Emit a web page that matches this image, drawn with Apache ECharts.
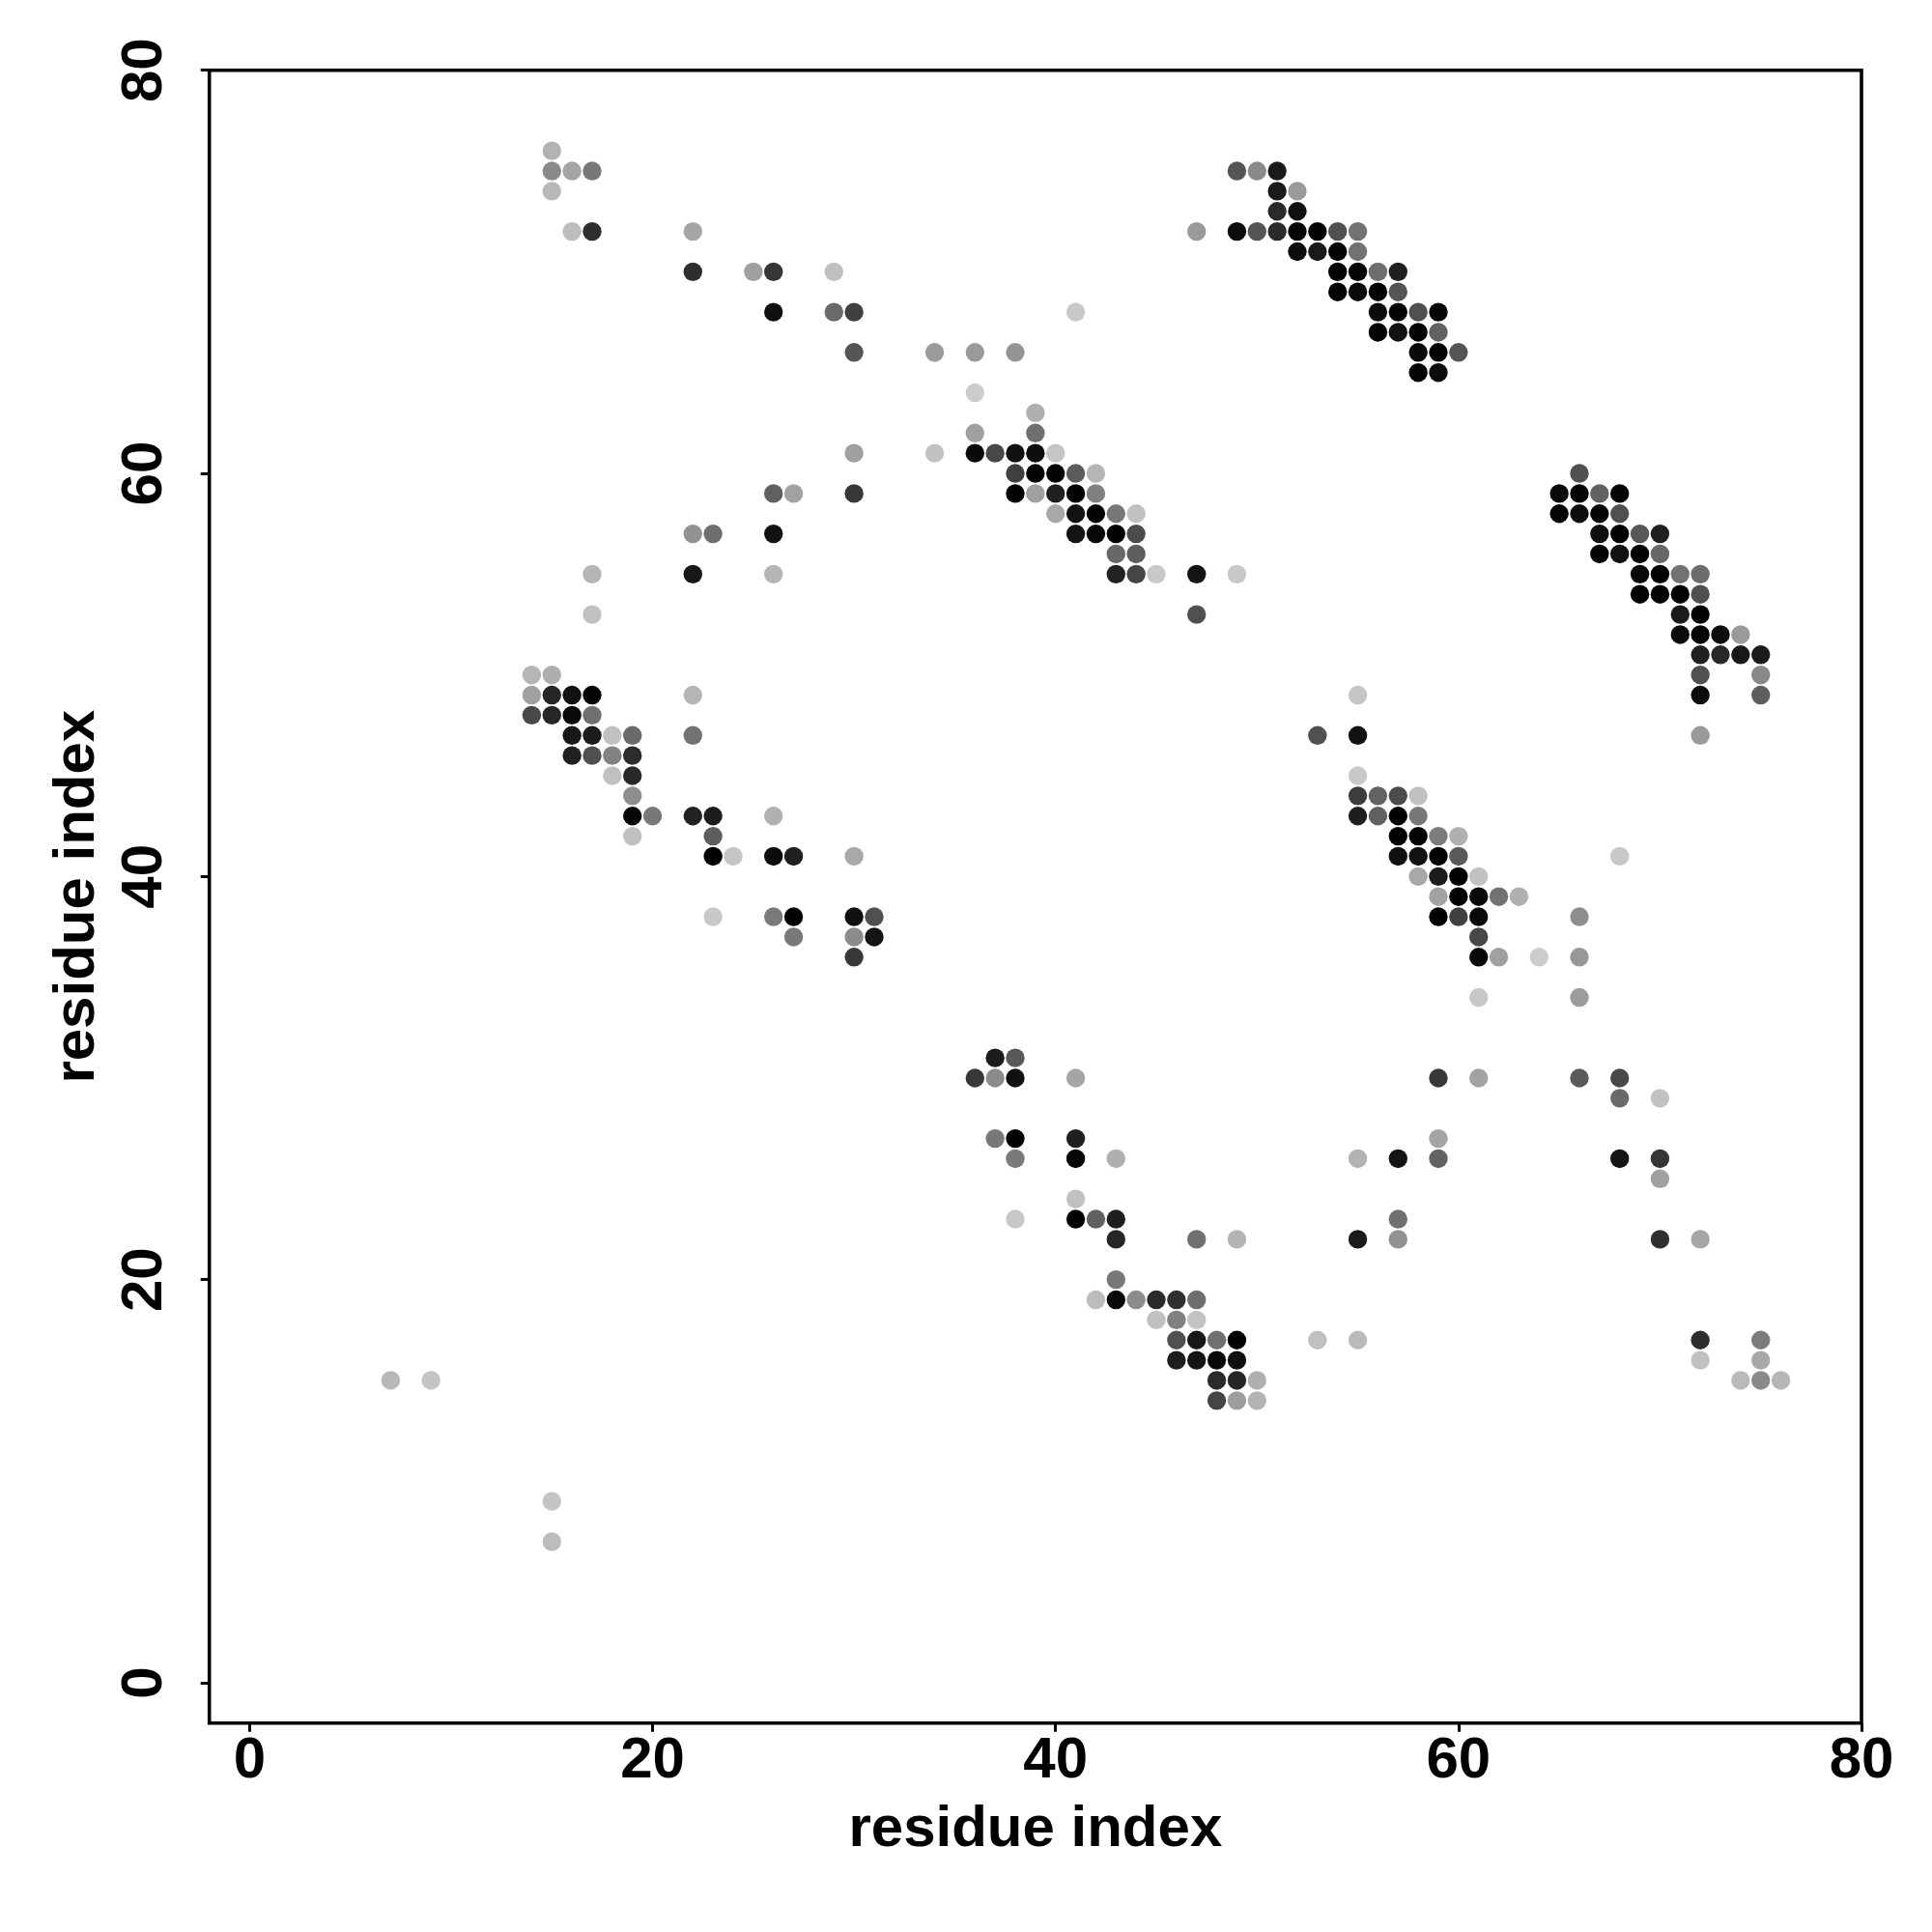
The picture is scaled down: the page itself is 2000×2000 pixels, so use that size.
<!DOCTYPE html>
<html>
<head>
<meta charset="utf-8">
<style>html,body{margin:0;padding:0;background:#fff}#chart{width:2000px;height:2000px}</style>
<script src="https://cdn.jsdelivr.net/npm/echarts@6/dist/echarts.min.js"></script>
</head>
<body>
<div id="chart"></div>
<script>
const axisTitle = 'residue index';
const tickValues = [0, 20, 40, 60, 80];
const rowY = [76,75,74,73,72,71,70,69,68,67,66,65,64,63,62,61,60,59,58,57,56,55,54,53,52,51,50,49,48,47,46,45,44,43,42,41,40,39,38,37,36,34,31,30,29,27,26,25,24,23,22,20,19,18,17,16,15,14,9,7];
const rowX = [
[15],
[15,16,17,49,50,51],
[15,51,52],
[51,52],
[16,17,22,47,49,50,51,52,53,54,55],
[52,53,54,55],
[22,25,26,29,54,55,56,57],
[54,55,56,57],
[26,29,30,41,56,57,58,59],
[56,57,58,59],
[30,34,36,38,58,59,60],
[58,59],
[36],
[39],
[36,39],
[30,34,36,37,38,39,40],
[38,39,40,41,42,66],
[26,27,30,38,39,40,41,42,65,66,67,68],
[40,41,42,43,44,65,66,67,68],
[22,23,26,41,42,43,44,67,68,69,70],
[43,44,67,68,69,70],
[17,22,26,43,44,45,47,49,69,70,71,72],
[69,70,71,72],
[17,47,71,72],
[71,72,73,74],
[72,73,74,75],
[14,15,72,75],
[14,15,16,17,22,55,72,75],
[14,15,16,17],
[16,17,18,19,22,53,55,72],
[16,17,18,19],
[18,19,55],
[19,55,56,57,58],
[19,20,22,23,26,55,56,57,58],
[19,23,57,58,59,60],
[23,24,26,27,30,57,58,59,60,68],
[58,59,60,61],
[59,60,61,62,63],
[23,26,27,30,31,59,60,61,66],
[27,30,31,61],
[30,61,62,64,66],
[61,66],
[37,38],
[36,37,38,41,59,61,66,68],
[68,70],
[37,38,41,59],
[38,41,43,55,57,59,68,70],
[70],
[41],
[38,41,42,43,57],
[43,47,49,55,57,70,72],
[43],
[42,43,44,45,46,47],
[45,46,47],
[46,47,48,49,53,55,72,75],
[46,47,48,49,72,75],
[7,9,48,49,50,74,75,76],
[48,49,50],
[15],
[15]
];
const rowShade = [
[0xb3],
[0x8a,0xa5,0x78,0x55,0x8a,0x1a],
[0xb8,0x1a,0x9a],
[0x2a,0x10],
[0xbd,0x2e,0xa5,0x9a,0x0c,0x55,0x2a,0x04,0x02,0x50,0x72],
[0x0c,0x1a,0x04,0x72],
[0x2e,0xa0,0x35,0xc0,0x02,0x04,0x6e,0x20],
[0x04,0x0a,0x02,0x55],
[0x10,0x6a,0x40,0xc8,0x0c,0x04,0x50,0x04],
[0x04,0x12,0x04,0x62],
[0x55,0x9a,0x9a,0x95,0x0a,0x02,0x55],
[0x04,0x0c],
[0xcc],
[0xb0],
[0xa0,0x70],
[0xa0,0xc2,0x0a,0x48,0x10,0x0e,0xc5],
[0x40,0x04,0x02,0x5c,0xb5,0x50],
[0x60,0xa2,0x38,0x02,0xa0,0x20,0x02,0x80,0x0a,0x04,0x62,0x04],
[0xa8,0x12,0x02,0x78,0xc0,0x04,0x0e,0x04,0x50],
[0x92,0x6e,0x12,0x14,0x08,0x02,0x4c,0x10,0x02,0x58,0x20],
[0x68,0x5e,0x04,0x12,0x02,0x68],
[0xb5,0x18,0xb5,0x22,0x45,0xc8,0x14,0xc8,0x0a,0x02,0x72,0x6c],
[0x04,0x04,0x04,0x50],
[0xc0,0x50,0x1a,0x02],
[0x0c,0x04,0x0e,0x9a],
[0x20,0x28,0x18,0x1a],
[0xb5,0xae,0x50,0x88],
[0xa0,0x26,0x12,0x04,0xb5,0xc5,0x0c,0x5e],
[0x48,0x26,0x0a,0x70],
[0x18,0x1c,0xc0,0x6a,0x72,0x50,0x12,0x9a],
[0x20,0x50,0x82,0x2c],
[0xc0,0x28,0xc8],
[0x8e,0x3c,0x62,0x4c,0xc0],
[0x06,0x78,0x22,0x1c,0xb0,0x1e,0x60,0x00,0x78],
[0xc0,0x5e,0x02,0x04,0x7c,0xb0],
[0x02,0xc5,0x0c,0x20,0xa8,0x10,0x12,0x02,0x5a,0xc8],
[0xa8,0x1c,0x00,0xc2],
[0xa2,0x02,0x0a,0x72,0xb0],
[0xc8,0x7a,0x02,0x10,0x50,0x00,0x40,0x08,0x8e],
[0x78,0x8c,0x14,0x48],
[0x38,0x0a,0xa0,0xcc,0x98],
[0xc8,0x9c],
[0x1c,0x58],
[0x38,0x8c,0x10,0xa5,0x38,0xa2,0x5a,0x48],
[0x6a,0xc2],
[0x78,0x02,0x20,0xa5],
[0x7a,0x06,0xb0,0xb2,0x14,0x62,0x14,0x35],
[0xa0],
[0xc0],
[0xc8,0x02,0x60,0x1e,0x70],
[0x26,0x70,0xb4,0x1a,0x92,0x30,0xa6],
[0x78],
[0xbc,0x08,0x8c,0x2a,0x30,0x6e],
[0xc0,0x80,0xc4],
[0x50,0x18,0x70,0x02,0xc0,0xba,0x2e,0x7c],
[0x1e,0x14,0x08,0x10,0xc0,0xa8],
[0xb8,0xc4,0x2a,0x26,0xb0,0xba,0x8a,0xb6],
[0x45,0x9e,0xb4],
[0xc4],
[0xbc]
];

const points = [];
rowY.forEach((y, r) => rowX[r].forEach((x, c) => points.push([x, y, rowShade[r][c]])));

const FONT = '"Liberation Sans", Arial, sans-serif';
const tickSet = { length: 9, lineStyle: { color: '#000', width: 3 }, customValues: tickValues };
const chart = echarts.init(document.getElementById('chart'), null, { renderer: 'canvas' });
chart.setOption({
  animation: false,
  backgroundColor: '#fff',
  grid: {
    left: 216.7, top: 72.7, width: 1710.3, height: 1711,
    show: true, borderColor: '#000', borderWidth: 3.6, backgroundColor: 'transparent', containLabel: false
  },
  xAxis: {
    type: 'value', min: -2, max: 80,
    name: axisTitle, nameLocation: 'middle', nameGap: 81,
    nameTextStyle: { fontFamily: FONT, fontWeight: 'bold', fontSize: 60, color: '#000' },
    axisLine: { show: false, onZero: false },
    axisTick: tickSet,
    axisLabel: { customValues: tickValues, fontFamily: FONT, fontWeight: 'bold', fontSize: 60, color: '#000', margin: 10 },
    splitLine: { show: false }
  },
  yAxis: {
    type: 'value', min: -2, max: 80,
    name: axisTitle, nameLocation: 'middle', nameGap: 106,
    nameTextStyle: { fontFamily: FONT, fontWeight: 'bold', fontSize: 60, color: '#000' },
    axisLine: { show: false, onZero: false },
    axisTick: tickSet,
    axisLabel: { customValues: tickValues, fontFamily: FONT, fontWeight: 'bold', fontSize: 60, color: '#000', rotate: 90, margin: 36 },
    splitLine: { show: false }
  },
  series: [{
    type: 'scatter',
    data: points,
    symbol: 'circle',
    symbolSize: 19.4,
    clip: false,
    itemStyle: {
      color: p => { const g = p.value[2]; return 'rgb(' + g + ',' + g + ',' + g + ')'; },
      opacity: 1,
      borderWidth: 0
    },
    emphasis: { disabled: true }
  }]
});
</script>
</body>
</html>
